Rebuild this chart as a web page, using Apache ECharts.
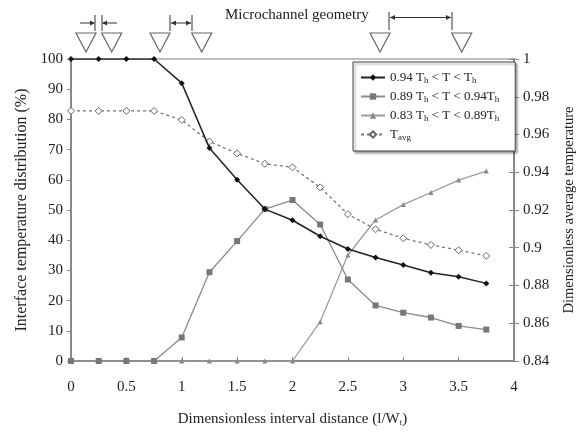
<!DOCTYPE html>
<html>
<head>
<meta charset="utf-8">
<script src="https://cdn.jsdelivr.net/npm/echarts@6/dist/echarts.min.js"></script>
<style>
  html, body { margin: 0; padding: 0; background: #fff; }
  #chart { width: 585px; height: 432px; }
</style>
</head>
<body>
<div id="chart"></div>
<script>
// interval distance l/Wt
const distance = [0, 0.25, 0.5, 0.75, 1, 1.25, 1.5, 1.75, 2, 2.25, 2.5, 2.75, 3, 3.25, 3.5, 3.75];
// interface temperature distribution (%)
const bandHigh = [100, 100, 100, 100, 92, 70.5, 60, 50.3, 46.6, 41.3, 37.1, 34.3, 31.8, 29.2, 27.9, 25.7];
const bandMid = [0, 0, 0, 0, 7.8, 29.4, 39.7, 50.3, 53.3, 45.2, 27, 18.4, 16, 14.4, 11.6, 10.4];
const bandLow = [0, 0, 0, 0, 0, 0, 0, 0, 0, 13, 35.1, 46.7, 51.8, 55.8, 59.9, 62.9];
// dimensionless average temperature
const tAvg = [0.9725, 0.9725, 0.9725, 0.9725, 0.9677, 0.9563, 0.950, 0.9445, 0.9426, 0.932, 0.9178, 0.9098, 0.905, 0.9015, 0.8987, 0.8957];

const legendText = {
  high: "0.94 T{s|h} < T < T{s|h}",
  mid: "0.89 T{s|h} < T < 0.94T{s|h}",
  low: "0.83 T{s|h} < T < 0.89T{s|h}",
  avg: "T{s|avg}"
};

const serif = "Liberation Serif";
const pairs = arr => distance.map((x, i) => [x, arr[i]]);

const chart = echarts.init(document.getElementById("chart"));

// triangles and dimension marks above the plot (microchannel geometry sketch)
const triangleX = [86, 111.7, 160, 201.7, 380, 461.7];
const graphics = triangleX.map(cx => ({
  type: "polygon",
  shape: { points: [[cx - 10, 33], [cx + 10, 33], [cx, 52]] },
  style: { fill: "#fff", stroke: "#666", lineWidth: 1.2 }
}));
function bar(x, y1, y2) {
  return { type: "line", shape: { x1: x, y1: y1, x2: x, y2: y2 }, style: { stroke: "#333", lineWidth: 1 } };
}
function arrowHead(x, y, dir) {
  return {
    type: "polygon",
    shape: { points: [[x, y], [x - 5 * dir, y - 2.5], [x - 5 * dir, y + 2.5]] },
    style: { fill: "#333" }
  };
}
function seg(x1, x2, y) {
  return { type: "line", shape: { x1: x1, y1: y, x2: x2, y2: y }, style: { stroke: "#333", lineWidth: 1 } };
}
graphics.push(
  bar(95, 15, 31), seg(80, 94, 23), arrowHead(95, 23, 1),
  bar(102, 15, 31), seg(103, 117, 23), arrowHead(102, 23, -1),
  bar(170, 15, 31), bar(192, 15, 31), seg(171, 191, 23), arrowHead(171, 23, -1), arrowHead(191, 23, 1),
  bar(389, 12, 30), bar(452, 12, 30), seg(390, 451, 17.5), arrowHead(390, 17.5, -1), arrowHead(451, 17.5, 1),
  {
    type: "text",
    left: 225, top: 8,
    style: { text: "Microchannel geometry", font: "15px " + serif, fill: "#222" }
  }
);

const option = {
  animation: false,
  backgroundColor: "#fff",
  textStyle: { fontFamily: serif },
  grid: {
    left: 71, right: 64, top: 59, bottom: 69,
    show: true, borderColor: "#aaa", borderWidth: 1.5
  },
  legend: {
    orient: "vertical",
    left: 353, top: 62,
    width: 162,
    padding: [9, 16, 9, 7],
    itemGap: 5,
    itemWidth: 24, itemHeight: 8,
    backgroundColor: "#fff",
    borderColor: "#444",
    borderWidth: 1,
    borderRadius: 0,
    shadowColor: "rgba(0,0,0,0.35)",
    shadowOffsetX: 2, shadowOffsetY: 2, shadowBlur: 2,
    data: ["high", "mid", "low", "avg"],
    formatter: name => legendText[name],
    textStyle: {
      fontFamily: serif, fontSize: 13, color: "#222",
      rich: { s: { fontSize: 9, padding: [6, 0, 0, 0], fontFamily: serif, color: "#222" } }
    }
  },
  xAxis: {
    type: "value",
    min: 0, max: 4, interval: 0.5,
    name: "Dimensionless interval distance (l/W{s|t})",
    nameLocation: "middle",
    nameGap: 50,
    nameTextStyle: {
      fontFamily: serif, fontSize: 15, color: "#222",
      rich: { s: { fontSize: 9, padding: [7, 0, 0, 0], fontFamily: serif, color: "#222" } }
    },
    axisLine: { lineStyle: { color: "#888", width: 2 } },
    axisTick: { inside: true, length: 4, lineStyle: { color: "#888" } },
    axisLabel: { fontFamily: serif, fontSize: 15, color: "#222", margin: 19 },
    splitLine: { show: false }
  },
  yAxis: [
    {
      type: "value",
      min: 0, max: 100, interval: 10,
      name: "Interface temperature distribution (%)",
      nameLocation: "middle",
      nameGap: 41,
      nameTextStyle: { fontFamily: serif, fontSize: 16, color: "#222" },
      axisLine: { show: true, lineStyle: { color: "#888", width: 2 } },
      axisTick: { show: true, length: 4, lineStyle: { color: "#888" } },
      axisLabel: { fontFamily: serif, fontSize: 15, color: "#222", margin: 8 },
      splitLine: { show: false }
    },
    {
      type: "value",
      position: "right",
      min: 0.84, max: 1, interval: 0.02,
      name: "Dimensionless average temperature",
      nameLocation: "middle",
      nameGap: 48,
      nameTextStyle: { fontFamily: serif, fontSize: 14.5, color: "#222" },
      axisLine: { show: true, lineStyle: { color: "#888", width: 2 } },
      axisTick: { show: true, length: 5, lineStyle: { color: "#888" } },
      axisLabel: { fontFamily: serif, fontSize: 15, color: "#222", margin: 9 },
      splitLine: { show: false }
    },
    {
      // inner half of the right-hand ticks
      type: "value",
      position: "right",
      min: 0.84, max: 1, interval: 0.02,
      axisLine: { show: false },
      axisTick: { show: true, inside: true, length: 5, lineStyle: { color: "#888" } },
      axisLabel: { show: false },
      splitLine: { show: false }
    }
  ],
  series: [
    {
      name: "low", type: "line", yAxisIndex: 0, z: 2,
      data: pairs(bandLow),
      symbol: "triangle", symbolSize: 5,
      lineStyle: { color: "#9a9a9a", width: 1.3 },
      itemStyle: { color: "#888" }
    },
    {
      name: "mid", type: "line", yAxisIndex: 0, z: 3,
      data: pairs(bandMid),
      symbol: "rect", symbolSize: 6,
      lineStyle: { color: "#8a8a8a", width: 1.3 },
      itemStyle: { color: "#777" }
    },
    {
      name: "avg", type: "line", yAxisIndex: 1, z: 3,
      data: pairs(tAvg),
      symbol: "diamond", symbolSize: 7,
      lineStyle: { color: "#777", width: 1.3, type: [3, 3] },
      itemStyle: { color: "#fff", borderColor: "#666", borderWidth: 1 }
    },
    {
      name: "high", type: "line", yAxisIndex: 0, z: 4,
      data: pairs(bandHigh),
      symbol: "diamond", symbolSize: 6,
      lineStyle: { color: "#222", width: 1.5 },
      itemStyle: { color: "#111" }
    }
  ],
  graphic: graphics
};

chart.setOption(option);
</script>
</body>
</html>
